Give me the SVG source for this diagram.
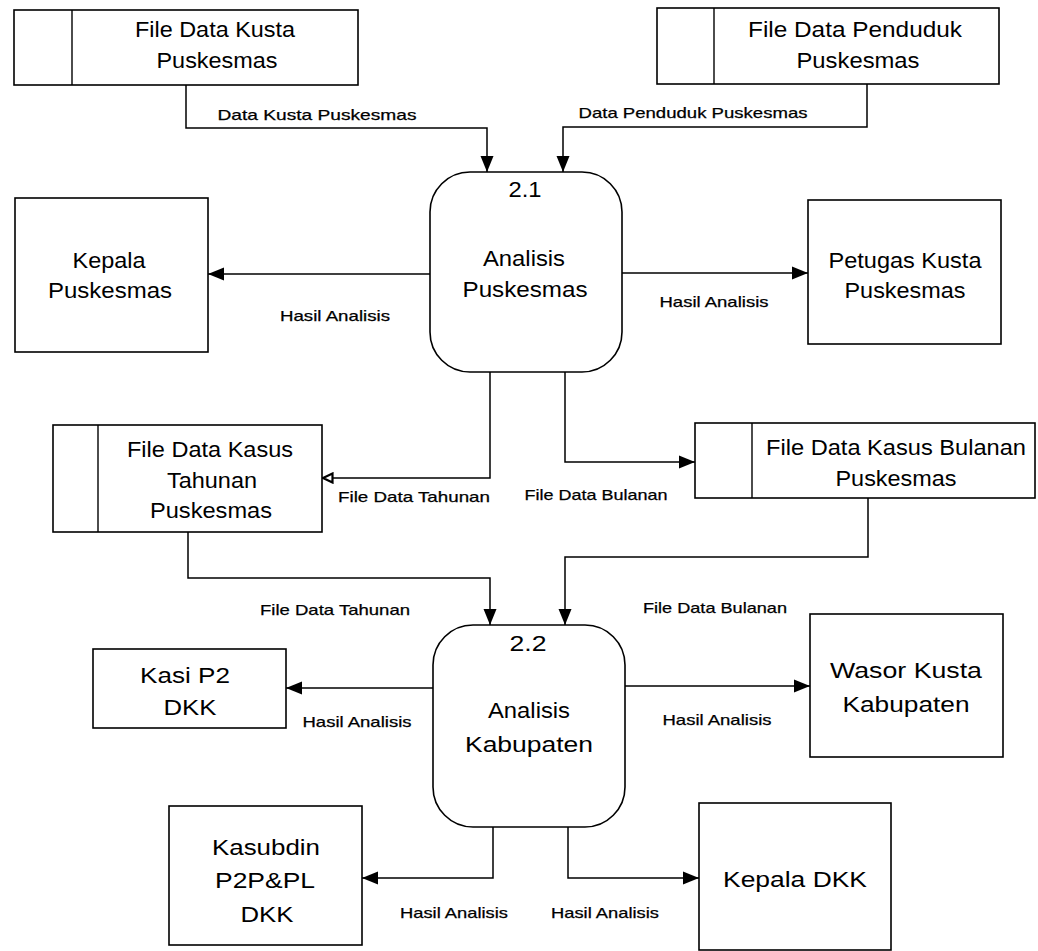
<svg xmlns="http://www.w3.org/2000/svg" width="1038" height="951" viewBox="0 0 1038 951">
  <style>
    .box { fill: #fff; stroke: #000; stroke-width: 1.6; }
    .div { stroke: #000; stroke-width: 1.4; }
    .t { font-family: "Liberation Sans", Arial, sans-serif; font-size: 22px; fill: #000; text-anchor: middle; }
    .lbl { font-family: "Liberation Sans", Arial, sans-serif; font-size: 15px; fill: #000; text-anchor: middle; stroke: #000; stroke-width: 0.25; }
    .flow { fill: none; stroke: #000; stroke-width: 1.5; marker-end: url(#arrow); }
    .flow-open { fill: none; stroke: #000; stroke-width: 1.5; marker-end: url(#arrow-open); }
  </style>
  <defs>
    <marker id="arrow" markerUnits="userSpaceOnUse" markerWidth="17" markerHeight="14" refX="16" refY="7" orient="auto">
      <path d="M0,0.5 L16,7 L0,13.5 z" fill="#000"/>
    </marker>
    <marker id="arrow-open" markerUnits="userSpaceOnUse" markerWidth="13" markerHeight="12" refX="12" refY="6" orient="auto">
      <path d="M1.5,1.5 L11,6 L1.5,10.5 z" fill="#fff" stroke="#000" stroke-width="2.2"/>
    </marker>
  </defs>

  <rect width="1038" height="951" fill="#fff"/>

  <!-- data flows -->
  <g id="connectors">
    <path class="flow" d="M186,85 V128 H487 V172"/>
    <path class="flow" d="M867,84 V127 H563 V172"/>
    <path class="flow" d="M430,274 H208"/>
    <path class="flow" d="M622,273 H808"/>
    <path class="flow-open" d="M490,372 V478 H322"/>
    <path class="flow" d="M565,372 V462 H695"/>
    <path class="flow" d="M188,532 V578 H490 V625"/>
    <path class="flow" d="M868,498 V557 H565 V625"/>
    <path class="flow" d="M433,688 H286"/>
    <path class="flow" d="M625,686 H810"/>
    <path class="flow" d="M493,827 V878 H362"/>
    <path class="flow" d="M568,827 V878 H699"/>

    <text class="lbl" x="317" y="120" textLength="199" lengthAdjust="spacingAndGlyphs">Data Kusta Puskesmas</text>
    <text class="lbl" x="693" y="118" textLength="229" lengthAdjust="spacingAndGlyphs">Data Penduduk Puskesmas</text>
    <text class="lbl" x="335" y="321" textLength="110" lengthAdjust="spacingAndGlyphs">Hasil Analisis</text>
    <text class="lbl" x="714" y="307" textLength="109" lengthAdjust="spacingAndGlyphs">Hasil Analisis</text>
    <text class="lbl" x="414" y="502" textLength="152" lengthAdjust="spacingAndGlyphs">File Data Tahunan</text>
    <text class="lbl" x="596" y="500" textLength="143" lengthAdjust="spacingAndGlyphs">File Data Bulanan</text>
    <text class="lbl" x="335" y="615" textLength="150" lengthAdjust="spacingAndGlyphs">File Data Tahunan</text>
    <text class="lbl" x="715" y="613" textLength="144" lengthAdjust="spacingAndGlyphs">File Data Bulanan</text>
    <text class="lbl" x="357" y="727" textLength="109" lengthAdjust="spacingAndGlyphs">Hasil Analisis</text>
    <text class="lbl" x="717" y="725" textLength="109" lengthAdjust="spacingAndGlyphs">Hasil Analisis</text>
    <text class="lbl" x="454" y="918" textLength="108" lengthAdjust="spacingAndGlyphs">Hasil Analisis</text>
    <text class="lbl" x="605" y="918" textLength="108" lengthAdjust="spacingAndGlyphs">Hasil Analisis</text>
  </g>

  <!-- data stores -->
  <g id="store-kusta">
    <rect class="box" x="14" y="10" width="344" height="75"/>
    <line class="div" x1="72" y1="10" x2="72" y2="85"/>
    <text class="t" x="215" y="37" textLength="160" lengthAdjust="spacingAndGlyphs">File Data Kusta</text>
    <text class="t" x="217" y="68" textLength="121" lengthAdjust="spacingAndGlyphs">Puskesmas</text>
  </g>
  <g id="store-penduduk">
    <rect class="box" x="657" y="8" width="342" height="76"/>
    <line class="div" x1="714" y1="8" x2="714" y2="84"/>
    <text class="t" x="855" y="37" textLength="214" lengthAdjust="spacingAndGlyphs">File Data Penduduk</text>
    <text class="t" x="858" y="68" textLength="123" lengthAdjust="spacingAndGlyphs">Puskesmas</text>
  </g>
  <g id="store-tahunan">
    <rect class="box" x="53" y="425" width="269" height="107"/>
    <line class="div" x1="98" y1="425" x2="98" y2="532"/>
    <text class="t" x="210" y="457" textLength="166" lengthAdjust="spacingAndGlyphs">File Data Kasus</text>
    <text class="t" x="212" y="488" textLength="90" lengthAdjust="spacingAndGlyphs">Tahunan</text>
    <text class="t" x="211" y="518" textLength="122" lengthAdjust="spacingAndGlyphs">Puskesmas</text>
  </g>
  <g id="store-bulanan">
    <rect class="box" x="695" y="423" width="340" height="75"/>
    <line class="div" x1="752" y1="423" x2="752" y2="498"/>
    <text class="t" x="896" y="455" textLength="260" lengthAdjust="spacingAndGlyphs">File Data Kasus Bulanan</text>
    <text class="t" x="896" y="486" textLength="121" lengthAdjust="spacingAndGlyphs">Puskesmas</text>
  </g>

  <!-- processes -->
  <g id="proc-2-1">
    <rect class="box" x="430" y="172" width="192" height="200" rx="40" ry="40"/>
    <text class="t" x="525" y="197" textLength="33" lengthAdjust="spacingAndGlyphs">2.1</text>
    <text class="t" x="524" y="266" textLength="82" lengthAdjust="spacingAndGlyphs">Analisis</text>
    <text class="t" x="525" y="297" textLength="125" lengthAdjust="spacingAndGlyphs">Puskesmas</text>
  </g>
  <g id="proc-2-2">
    <rect class="box" x="433" y="625" width="192" height="202" rx="40" ry="40"/>
    <text class="t" x="528" y="651" textLength="37" lengthAdjust="spacingAndGlyphs">2.2</text>
    <text class="t" x="529" y="718" textLength="82" lengthAdjust="spacingAndGlyphs">Analisis</text>
    <text class="t" x="529" y="752" textLength="128" lengthAdjust="spacingAndGlyphs">Kabupaten</text>
  </g>

  <!-- external entities -->
  <g id="ent-kepala-puskesmas">
    <rect class="box" x="15" y="198" width="193" height="154"/>
    <text class="t" x="109" y="268" textLength="73" lengthAdjust="spacingAndGlyphs">Kepala</text>
    <text class="t" x="110" y="298" textLength="124" lengthAdjust="spacingAndGlyphs">Puskesmas</text>
  </g>
  <g id="ent-petugas">
    <rect class="box" x="808" y="200" width="193" height="144"/>
    <text class="t" x="905" y="268" textLength="153" lengthAdjust="spacingAndGlyphs">Petugas Kusta</text>
    <text class="t" x="905" y="298" textLength="121" lengthAdjust="spacingAndGlyphs">Puskesmas</text>
  </g>
  <g id="ent-kasi">
    <rect class="box" x="93" y="649" width="193" height="79"/>
    <text class="t" x="185" y="683" textLength="90" lengthAdjust="spacingAndGlyphs">Kasi P2</text>
    <text class="t" x="190" y="715" textLength="53" lengthAdjust="spacingAndGlyphs">DKK</text>
  </g>
  <g id="ent-wasor">
    <rect class="box" x="810" y="614" width="193" height="143"/>
    <text class="t" x="906" y="678" textLength="152" lengthAdjust="spacingAndGlyphs">Wasor Kusta</text>
    <text class="t" x="906" y="712" textLength="127" lengthAdjust="spacingAndGlyphs">Kabupaten</text>
  </g>
  <g id="ent-kasubdin">
    <rect class="box" x="169" y="806" width="193" height="139"/>
    <text class="t" x="266" y="855" textLength="108" lengthAdjust="spacingAndGlyphs">Kasubdin</text>
    <text class="t" x="265" y="888" textLength="100" lengthAdjust="spacingAndGlyphs">P2P&amp;PL</text>
    <text class="t" x="267" y="922" textLength="53" lengthAdjust="spacingAndGlyphs">DKK</text>
  </g>
  <g id="ent-kepala-dkk">
    <rect class="box" x="699" y="803" width="192" height="147"/>
    <text class="t" x="795" y="887" textLength="144" lengthAdjust="spacingAndGlyphs">Kepala DKK</text>
  </g>
</svg>
